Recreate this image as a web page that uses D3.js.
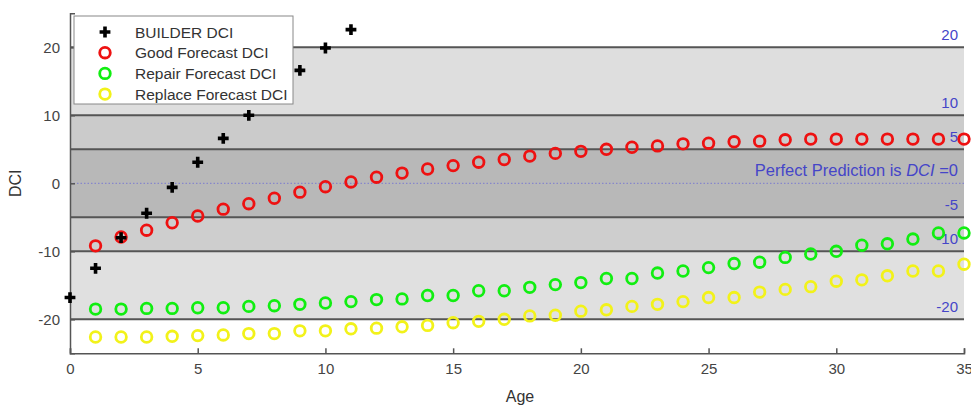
<!DOCTYPE html>
<html><head><meta charset="utf-8">
<script src="https://cdn.jsdelivr.net/npm/d3@7"></script>
<style>body{margin:0;background:#fff;} text{font-family:Arial,"Liberation Sans",sans-serif;}</style>
</head><body>
<svg id="c" width="971" height="405"></svg>
<script>
const builderAge = [0,1,2,3,4,5,6,7,8,9,10,11];
const builderDCI = [-16.8,-12.5,-8.0,-4.4,-0.6,3.1,6.6,10.0,13.3,16.6,19.9,22.6];
const forecastAge = d3.range(1,36);
const goodDCI = [-9.2,-7.9,-6.9,-5.8,-4.8,-3.8,-3.0,-2.2,-1.3,-0.5,0.2,0.9,1.5,2.1,2.6,3.1,3.5,4.0,4.4,4.7,5.0,5.3,5.5,5.8,5.9,6.1,6.2,6.4,6.5,6.5,6.5,6.5,6.5,6.5,6.5];
const repairDCI = [-18.5,-18.5,-18.4,-18.4,-18.3,-18.3,-18.1,-18.0,-17.8,-17.6,-17.4,-17.1,-17.0,-16.5,-16.5,-15.8,-15.8,-15.3,-14.9,-14.6,-14.0,-14.0,-13.2,-12.9,-12.4,-11.8,-11.6,-10.9,-10.4,-10.0,-9.1,-8.9,-8.2,-7.3,-7.3];
const replaceDCI = [-22.6,-22.6,-22.6,-22.5,-22.4,-22.3,-22.1,-22.1,-21.7,-21.7,-21.4,-21.3,-21.1,-20.9,-20.5,-20.3,-20.0,-19.5,-19.4,-18.8,-18.6,-18.1,-17.8,-17.4,-16.8,-16.8,-16.0,-15.6,-15.2,-14.4,-14.2,-13.6,-12.9,-12.9,-11.9];
const bands = [[10,20],[5,10],[-5,5],[-10,-5],[-20,-10]];
const bandFill = ["#dedede","#cbcbcb","#b8b8b8","#cecece","#e0e0e0"];
const refLines = [20,10,5,-5,-10,-20];
const refLabels = ["20","10","5","-5","-10","-20"];
const xTicks = [0,5,10,15,20,25,30,35];
const yTicks = [-20,-10,0,10,20];
const legendLabels = ["BUILDER DCI","Good Forecast DCI","Repair Forecast DCI","Replace Forecast DCI"];
const seriesColors = ["#000000","#ee1111","#11ee11","#f2f21a"];

const svg = d3.select("#c");
const x = d3.scaleLinear().domain([0,35]).range([70,964]);
const y = d3.scaleLinear().domain([-25,25]).range([353.3,13.3]);

svg.selectAll("rect.band").data(bands).join("rect")
  .attr("x",x(0)).attr("width",x(35)-x(0))
  .attr("y",d=>y(d[1])).attr("height",d=>y(d[0])-y(d[1]))
  .attr("fill",(d,i)=>bandFill[i]);
svg.selectAll("line.ref").data(refLines).join("line")
  .attr("x1",x(0)).attr("x2",x(35)).attr("y1",d=>y(d)).attr("y2",d=>y(d))
  .attr("stroke","#555").attr("stroke-width",2);
svg.append("line").attr("x1",x(0)).attr("x2",x(35)).attr("y1",y(0)).attr("y2",y(0))
  .attr("stroke","#7a7ad0").attr("stroke-width",1).attr("stroke-dasharray","1.5,2");
svg.selectAll("text.rl").data(refLines).join("text")
  .attr("x",958).attr("y",d=>y(d)-7).attr("text-anchor","end")
  .attr("font-size",15).attr("fill","#4545c8").text((d,i)=>refLabels[i]);
const pp = svg.append("text").attr("x",958).attr("y",y(0)-7).attr("text-anchor","end")
  .attr("font-size",16.5).attr("fill","#4545c8");
pp.append("tspan").text("Perfect Prediction is ");
pp.append("tspan").attr("font-style","italic").text("DCI");
pp.append("tspan").text(" =0");

const fmt = d => String(d);
const xAxis = d3.axisBottom(x).tickValues(xTicks).tickSize(-5).tickPadding(10).tickFormat(fmt);
const gx = svg.append("g").attr("transform",`translate(0,${y(-25)})`).call(xAxis);
gx.select(".domain").attr("stroke","#555").attr("stroke-width",1.5);
gx.selectAll(".tick line").attr("stroke","#555").attr("stroke-width",1.5);
gx.selectAll("text").attr("font-size",15).attr("fill","#444").attr("font-family","Arial, Liberation Sans, sans-serif");
const yAxis = d3.axisLeft(y).tickValues(yTicks).tickSize(-5).tickPadding(10).tickFormat(fmt);
const gy = svg.append("g").attr("transform",`translate(${x(0)},0)`).call(yAxis);
gy.select(".domain").attr("stroke","#555").attr("stroke-width",1.5);
gy.selectAll(".tick line").attr("stroke","#555").attr("stroke-width",1.5);
gy.selectAll("text").attr("font-size",15).attr("fill","#444").attr("font-family","Arial, Liberation Sans, sans-serif");

svg.append("text").attr("x",520).attr("y",402).attr("text-anchor","middle").attr("font-size",16).attr("fill","#333").text("Age");
svg.append("text").attr("transform",`translate(21,${y(0)}) rotate(-90)`).attr("text-anchor","middle").attr("font-size",16).attr("fill","#333").text("DCI");

function circles(vals,color){
  svg.append("g").selectAll("circle").data(vals).join("circle")
    .attr("cx",(d,i)=>x(forecastAge[i])).attr("cy",d=>y(d)).attr("r",5.3)
    .attr("fill","none").attr("stroke",color).attr("stroke-width",2.8);
}
circles(replaceDCI,seriesColors[3]);
circles(repairDCI,seriesColors[2]);
circles(goodDCI,seriesColors[1]);
const plus = d3.symbol().type(d3.symbolCross).size(65);
svg.append("g").selectAll("path").data(builderDCI).join("path")
  .attr("transform",(d,i)=>`translate(${x(builderAge[i])},${y(d)})`)
  .attr("d",plus).attr("fill","#000");

const lg = svg.append("g");
lg.append("rect").attr("x",74).attr("y",16).attr("width",219).attr("height",88)
  .attr("fill","#fff").attr("stroke","#888").attr("stroke-width",1);
legendLabels.forEach((t,i)=>{
  const cy = 32 + i*20.7;
  if(i===0){
    lg.append("path").attr("transform",`translate(105,${cy})`).attr("d",plus).attr("fill","#000");
  } else {
    lg.append("circle").attr("cx",105).attr("cy",cy).attr("r",5.3).attr("fill","none")
      .attr("stroke",seriesColors[i]).attr("stroke-width",2.8);
  }
  lg.append("text").attr("x",135).attr("y",cy+5.5).attr("font-size",15.5).attr("fill","#333").text(t);
});
</script>
</body></html>
